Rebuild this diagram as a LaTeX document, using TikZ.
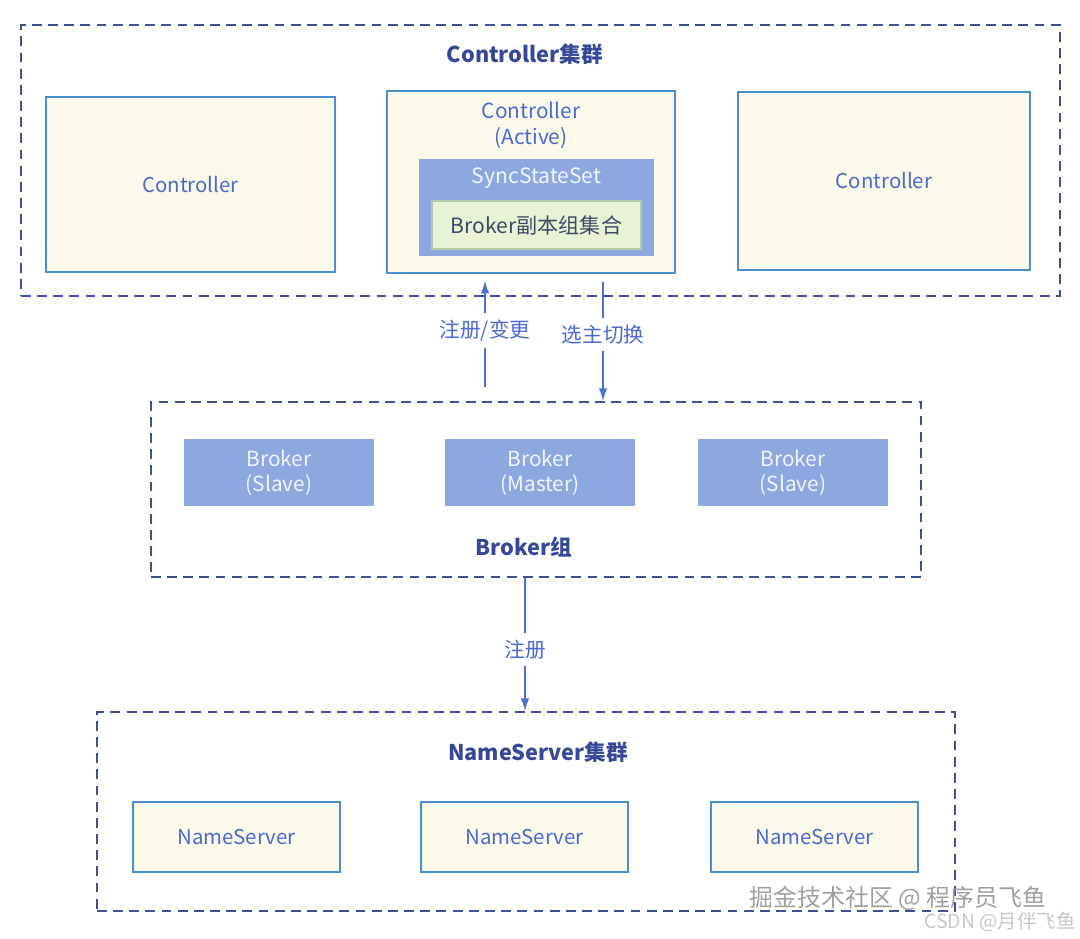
\documentclass[tikz,border=0pt]{standalone}
\usepackage{fontspec}
\setmainfont{Noto Sans CJK SC}
\usepackage{tikz}
\usetikzlibrary{arrows.meta, positioning, calc}
\definecolor{navyline}{RGB}{63,78,150}
\definecolor{titleblue}{RGB}{56,72,152}
\definecolor{boxline}{RGB}{74,144,208}
\definecolor{boxfill}{RGB}{251,249,234}
\definecolor{textblue}{RGB}{74,106,208}
\definecolor{brokerblue}{RGB}{140,168,222}
\definecolor{brokertext}{RGB}{240,244,253}
\definecolor{repgreen}{RGB}{232,243,214}
\definecolor{repline}{RGB}{178,204,166}
\definecolor{reptext}{RGB}{61,74,102}
\definecolor{arrowblue}{RGB}{74,112,208}

\begin{document}
\begin{tikzpicture}[
    x=0.025cm, y=-0.025cm,
    grp/.style={draw=navyline, dash pattern=on 7pt off 4.5pt, line width=1.4pt, minimum width=#1},
    ctrl/.style={draw=boxline, fill=boxfill, line width=0.9pt, text=textblue, font=\fontsize{14.5}{18}\selectfont},
    brk/.style={fill=brokerblue, text=brokertext, font=\fontsize{14.8}{17.5}\selectfont, align=center, minimum width=4.75cm, minimum height=1.675cm},
    sset/.style={fill=brokerblue, minimum width=5.875cm, minimum height=2.425cm},
    rep/.style={draw=repline, fill=repgreen, line width=0.8pt, text=reptext, font=\fontsize{15}{18}\selectfont, minimum width=5.225cm, minimum height=1.2cm},
    nsbox/.style={ctrl, minimum width=5.175cm, minimum height=1.75cm},
    title/.style={text=titleblue, font=\fontsize{15.4}{19}\selectfont\bfseries},
    arr/.style={-{Latex[length=9pt,width=6pt]}, draw=arrowblue, line width=1pt},
    lbl/.style={fill=white, text=textblue, font=\fontsize{14.7}{18}\selectfont, inner sep=5pt},
    wmark/.style={text=gray!75, inner sep=0pt, font=\fontsize{17}{20}\selectfont},
  ]
  \useasboundingbox (0,0) rectangle (1080,939);
  % Controller cluster
  \node[grp=25.975cm, minimum height=6.775cm] (cgrp) at (540.5,160.5) {};
  \node[title] (cgrpt) at (525,54) {Controller集群};
  \node[ctrl, minimum width=7.225cm, minimum height=4.375cm] (c1) at (190.5,184.5) {Controller};
  \node[ctrl, minimum width=7.2cm, minimum height=4.55cm] (c2) at (531,182) {};
  \node[text=textblue, font=\fontsize{14.8}{18.4}\selectfont, align=center] (c2t) at (531,125) {Controller\\(Active)};
  \node[sset] (ss) at (536.5,207.5) {};
  \node[text=brokertext, font=\fontsize{15}{18}\selectfont] (sst) at (536.5,178) {SyncStateSet};
  \node[rep] (rep) at (536.5,225) {Broker副本组集合};
  \node[ctrl, minimum width=7.3cm, minimum height=4.45cm] (c3) at (884,181) {Controller};
  % Broker group
  \node[grp=19.25cm, minimum height=4.375cm] (bgrp) at (536,489.5) {};
  \node[title] (bgrpt) at (524,547) {Broker组};
  \foreach \n/\x/\t in {b1/279/Slave, b2/540/Master, b3/793/Slave}
    \node[brk] (\n) at (\x,472.5) {Broker\\(\t)};
  % NameServer cluster
  \node[grp=21.45cm, minimum height=4.975cm] (nsgrp) at (526,811.5) {};
  \node[title] (nsgrpt) at (538,752) {NameServer集群};
  \foreach \n/\x in {ns1/236.5, ns2/524.5, ns3/814.5}
    \node[nsbox] (\n) at (\x,837) {NameServer};
  % connectors
  \coordinate (upX) at (485,387);
  \coordinate (downX) at (603,300);
  \coordinate (regX) at (525,640);
  \draw[arr, shorten >=0.175cm] (upX) -- (upX |- c2.south) node[lbl, pos=0.5] {注册/变更};
  \draw[arr, shorten <=0.2cm] (c2.south -| downX) -- (bgrp.north -| downX) node[lbl, pos=0.48] {选主切换};
  \draw[arr] (bgrp.south -| regX) -- (nsgrp.north -| regX) node[lbl, pos=0.54] {注册};
  % watermarks
  \node[wmark] (wm1) at (898,898) {掘金技术社区 @ 程序员飞鱼};
  \node[text=gray!45, inner sep=0pt, font=\fontsize{13.8}{16}\selectfont] (wm2) at (1000,922) {CSDN @月伴飞鱼};
\end{tikzpicture}
\end{document}
